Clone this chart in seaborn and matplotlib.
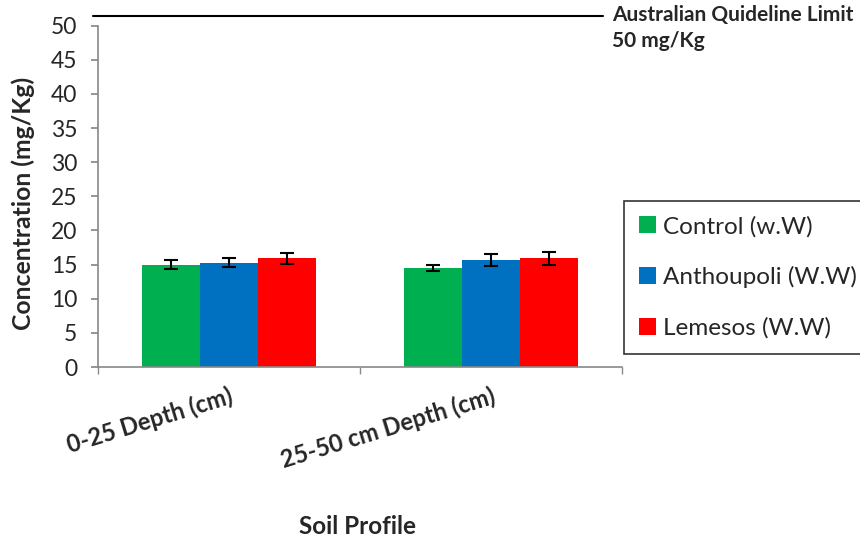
import matplotlib
matplotlib.use("Agg")
import matplotlib.pyplot as plt
import seaborn as sns
import pandas as pd
import numpy as np

categories = ["0-25 Depth (cm)", "25-50 cm Depth (cm)"]
series = ["Control (w.W)", "Anthoupoli (W.W)", "Lemesos (W.W)"]
control = [15.0, 14.5]
anthoupoli = [15.3, 15.7]
lemesos = [15.9, 15.9]
control_err = [0.65, 0.45]
anthoupoli_err = [0.6, 0.9]
lemesos_err = [0.85, 1.0]
colors = ["#00B050", "#0070C0", "#FF0000"]
limit_text = "Australian Quideline Limit\n50 mg/Kg"

sns.set_theme(style="white")
plt.rcParams['font.family'] = ['Lato', 'DejaVu Sans']

rows = []
for s, vals, errs in zip(series, [control, anthoupoli, lemesos],
                         [control_err, anthoupoli_err, lemesos_err]):
    for c, v, e in zip(categories, vals, errs):
        rows.append({"cat": c, "series": s, "value": v, "err": e})
df = pd.DataFrame(rows)

fig = plt.figure(figsize=(8.6, 5.41), dpi=100)
ax = fig.add_axes([0.114, 0.3216, 0.6093, 0.6309])

sns.barplot(data=df, x="cat", y="value", hue="series", order=categories,
            hue_order=series, palette=colors, errorbar=None, width=0.664,
            saturation=1, ax=ax, edgecolor="none", linewidth=0)

# error bars at bar centres
for cont, s in zip(ax.containers, series):
    sub = df[df.series == s].set_index("cat").loc[categories]
    xs = [p.get_x() + p.get_width() / 2 for p in cont.patches]
    ax.errorbar(xs, sub["value"].values, yerr=sub["err"].values, fmt="none",
                ecolor="black", elinewidth=1.5, capsize=5, capthick=1.5, zorder=5)

ax.set_ylim(0, 50)
ax.set_xlim(-0.5, 1.5)
ax.set_yticks(np.arange(0, 51, 5))
ax.tick_params(axis="y", labelsize=16.5, length=5, color="#888888", direction="out",
               left=True, pad=10)
ax.tick_params(axis="x", length=0)
ax.set_xticks([0, 1])
ax.set_xticklabels(categories, rotation=17, ha="right", rotation_mode="anchor",
                   fontsize=17, fontweight="bold")
for lbl in ax.get_xticklabels():
    lbl.set_y(-0.035)
# minor ticks at category boundaries
ax.set_xticks([-0.5, 0.5, 1.5], minor=True)
ax.tick_params(axis="x", which="minor", length=5, color="#888888", direction="out", bottom=True)

for side in ["top", "right"]:
    ax.spines[side].set_visible(False)
for side in ["left", "bottom"]:
    ax.spines[side].set_color("#888888")
    ax.spines[side].set_linewidth(1.2)

ax.set_ylabel("Concentration (mg/Kg)", fontsize=17.8, fontweight="bold")
ax.yaxis.set_label_coords(-0.12, 0.48)
ax.set_xlabel("Soil Profile", fontsize=17.5, fontweight="bold")
ax.xaxis.set_label_coords(0.495, -0.435)

# guideline line and label (drawn in figure coords like a shape)
fig.add_artist(plt.Line2D([93 / 860, 603 / 860], [1 - 16 / 541, 1 - 16 / 541],
                          color="black", linewidth=1.5))
fig.text(612 / 860, 1 - 5 / 541, limit_text, fontsize=15, fontweight="bold",
         va="top", ha="left", linespacing=1.35)

leg = ax.legend(loc="upper left", bbox_to_anchor=(624 / 860, 1 - 201 / 541),
                bbox_transform=fig.transFigure, fontsize=17.5, frameon=True,
                fancybox=False, edgecolor="black", handlelength=0.7,
                handleheight=0.7, handletextpad=0.3, labelspacing=1.2,
                borderpad=0.6, borderaxespad=0)
leg.get_frame().set_linewidth(1.2)

fig.savefig("out.png", dpi=100)
